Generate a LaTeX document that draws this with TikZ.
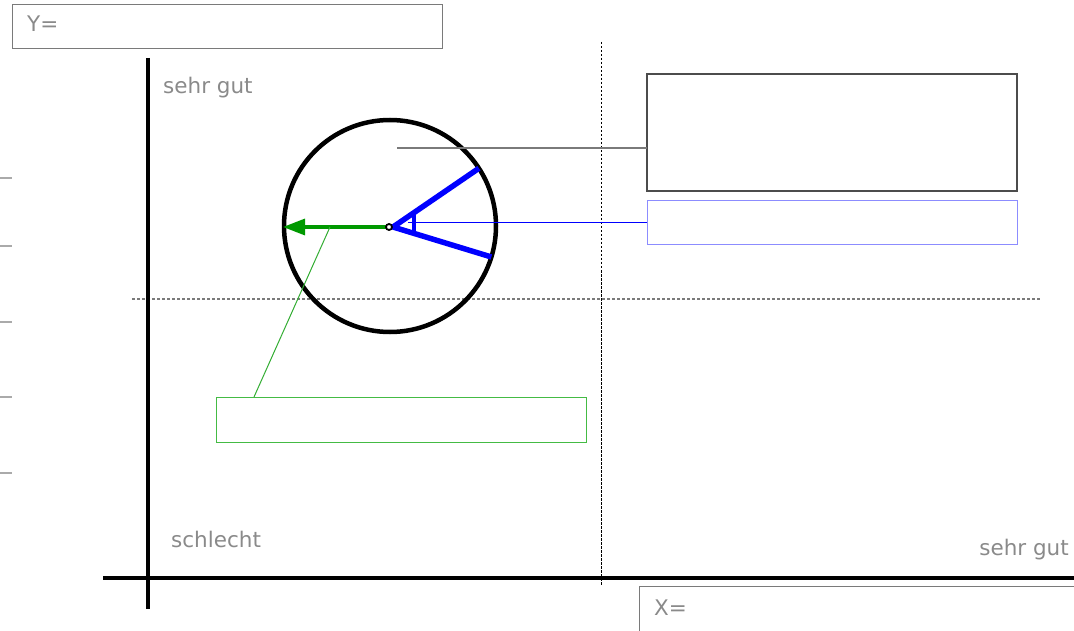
\documentclass[tikz,border=0pt]{standalone}
\usepackage{fontspec}
\setmainfont{DejaVu Sans}
\usetikzlibrary{arrows.meta}
\definecolor{labelgray}{HTML}{8A8A8A}
\definecolor{framegray}{HTML}{7A7A7A}
\definecolor{tickgray}{HTML}{AAAAAA}
\definecolor{arrowgreen}{HTML}{009900}
\definecolor{boxgreen}{HTML}{44BB44}
\definecolor{boxblue}{HTML}{8C8CFF}
\definecolor{pureblue}{HTML}{0000FF}
\begin{document}
\begin{tikzpicture}[x=1pt,y=-1pt,
  lbl/.style={text=labelgray, font=\fontsize{21.5}{25}\selectfont, inner sep=0pt, anchor=base west},
  frame/.style={draw=#1, rectangle, inner sep=0pt, outer sep=0pt, anchor=north west, line width=1pt},
  axisline/.style={line width=3.2pt, black},
  tickmark/.style={draw=tickgray, line width=1.5pt},
]
\useasboundingbox (0,0) rectangle (1074,631);
\clip (0,0) rectangle (1074,631);

% tick marks on the left
\foreach \ty [count=\i] in {178,246,322,397,473} {
  \coordinate (tl\i) at (0,\ty);
  \coordinate (tr\i) at (12,\ty);
  \draw[tickmark] (tl\i) -- (tr\i);
}

% dotted guide lines
\coordinate (vt) at (601,42);
\coordinate (vb) at (601,586);
\draw[black, line width=1pt, dash pattern=on 2.5pt off 1.5pt] (vt) -- (vb);
\coordinate (hl) at (132,299);
\coordinate (hr) at (1041,299);
\draw[framegray, line width=1.6pt, dash pattern=on 3pt off 2pt] (hl) -- (hr);

% axes
\coordinate (ytop) at (148,58);
\coordinate (ybot) at (148,609);
\coordinate (xl) at (103,578);
\coordinate (xr) at (1080,578);
\draw[axisline] (ytop) -- (ybot);
\draw[axisline] (xl) -- (xr);

% boxes
\node[frame=framegray, minimum width=430pt, minimum height=44pt] (ybox) at (12,5) {};
\node[lbl] (ylab) at (27,32) {Y=};
\node[frame=framegray, minimum width=460pt, minimum height=60pt] (xbox) at (639,586) {};
\node[lbl] (xlab) at (654,615.5) {X=};
\node[frame=black!70, line width=1.2pt, minimum width=370pt, minimum height=117pt] (bbox) at (647,74) {};
\node[frame=boxblue, minimum width=370pt, minimum height=44pt] (blbox) at (647,201) {};
\node[frame=boxgreen, minimum width=370pt, minimum height=45pt] (gbox) at (216,397) {};

% axis labels
\node[lbl] (sg1) at (163,94) {sehr gut};
\node[lbl] (sch) at (171,547.5) {schlecht};
\node[lbl, anchor=base east] (sg2) at (1069,555) {sehr gut};

% circle
\node[circle, draw=black, line width=4.5pt, minimum size=212pt, inner sep=0pt, outer sep=0pt] (circ) at (390,226) {};

% leader lines
\coordinate (gl) at (397,148);
\draw[framegray, line width=1.5pt] (gl) -- (gl -| bbox.west);
\coordinate (bl) at (408,223);
\draw[pureblue, line width=1pt] (bl) -- (bl -| blbox.west);

% blue angle
\coordinate (apex) at (393,227);
\draw[pureblue, line width=5.5pt, line join=miter] (circ.33.7) -- (apex) -- (circ.-17.9);
\coordinate (at1) at (414,212.5);
\coordinate (at2) at (414,235);
\draw[pureblue, line width=4pt] (at1) -- (at2);

% green arrow
\coordinate (ctr) at (389,227);
\coordinate (gtip) at (283,227);
\draw[arrowgreen, line width=3.2pt, -{Triangle[length=22pt,width=16pt]}] (ctr) -- (gtip);
\coordinate (gfoot) at (330,227);
\coordinate (gend) at (254,397);
\draw[arrowgreen!80!white, line width=1pt] (gfoot) -- (gend |- gbox.north);
\node[circle, draw=black, fill=white, line width=1.8pt, minimum size=6pt, inner sep=0pt] (cdot) at (ctr) {};
\end{tikzpicture}
\end{document}
